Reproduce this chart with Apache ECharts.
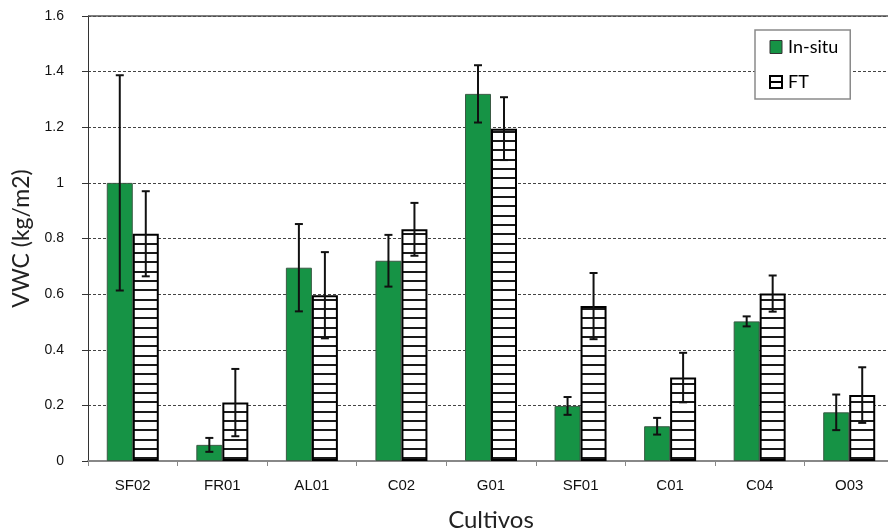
<!DOCTYPE html>
<html>
<head>
<meta charset="utf-8">
<script src="https://cdn.jsdelivr.net/npm/echarts@6/dist/echarts.min.js"></script>
<style>
  html, body { margin: 0; padding: 0; background: #fff; overflow: hidden; }
  #chart { width: 888px; height: 531px; }
</style>
</head>
<body>
<div id="chart"></div>
<script>
// Crops and measured volumetric water content (kg/m2)
const categories = ['SF02', 'FR01', 'AL01', 'C02', 'G01', 'SF01', 'C01', 'C04', 'O03'];
const inSitu     = [1.00, 0.058, 0.695, 0.72, 1.32, 0.198, 0.125, 0.502, 0.175];
const inSituErr  = [0.387, 0.025, 0.157, 0.093, 0.103, 0.032, 0.030, 0.018, 0.064];
const ft         = [0.817, 0.21, 0.596, 0.833, 1.195, 0.557, 0.30, 0.602, 0.237];
const ftErr      = [0.153, 0.121, 0.155, 0.095, 0.113, 0.119, 0.089, 0.065, 0.100];
const yTicks     = [0, 0.2, 0.4, 0.6, 0.8, 1, 1.2, 1.4, 1.6];

const BAR_W = 26;
const GREEN = '#169345';

// Horizontal-stripe fill for the FT bars
function stripePattern() {
  const c = document.createElement('canvas');
  c.width = 4; c.height = 28;
  const ctx = c.getContext('2d');
  ctx.fillStyle = '#ffffff';
  ctx.fillRect(0, 0, c.width, c.height);
  ctx.fillStyle = '#1a1a1a';
  [0, 9, 19].forEach(y => ctx.fillRect(0, y, c.width, 2));
  return c;
}

// Error whiskers drawn around each bar's top, shifted to the bar's slot
function errorSeries(name, values, errs, shift) {
  return {
    type: 'custom',
    name: name + '-err',
    silent: true,
    z: 10,
    data: values.map((v, i) => [i, v - errs[i], v + errs[i]]),
    encode: { x: 0, y: [1, 2] },
    renderItem: function (params, api) {
      const lo = api.coord([api.value(0), api.value(1)]);
      const hi = api.coord([api.value(0), api.value(2)]);
      const x = lo[0] + shift;
      const cap = 4;
      const style = { stroke: '#111', lineWidth: 2 };
      return {
        type: 'group',
        children: [
          { type: 'line', shape: { x1: x, y1: lo[1], x2: x, y2: hi[1] }, style: style },
          { type: 'line', shape: { x1: x - cap, y1: hi[1], x2: x + cap, y2: hi[1] }, style: style },
          { type: 'line', shape: { x1: x - cap, y1: lo[1], x2: x + cap, y2: lo[1] }, style: style }
        ]
      };
    }
  };
}

const chart = echarts.init(document.getElementById('chart'), null, { renderer: 'canvas', width: 888, height: 531 });

chart.setOption({
  animation: false,
  backgroundColor: '#ffffff',
  grid: { left: 88, top: 16, width: 806, height: 445, containLabel: false, outerBoundsMode: 'none' },
  legend: {
    orient: 'vertical',
    left: 755, top: 30,
    padding: [8, 12, 8, 14],
    itemGap: 17,
    itemWidth: 12, itemHeight: 13,
    borderColor: '#8a8a8a', borderWidth: 1.5,
    backgroundColor: '#fff',
    textStyle: { fontFamily: 'Lato', fontSize: 18, color: '#000', padding: [0, 0, 0, 1] },
    data: [
      { name: 'In-situ', icon: 'rect', itemStyle: { color: GREEN, borderColor: '#333', borderWidth: 1 } },
      { name: 'FT', icon: 'path://M0,0H20V20H0ZM0,10H20', itemStyle: { color: '#fff', borderColor: '#000', borderWidth: 2 } }
    ]
  },
  xAxis: {
    type: 'category',
    data: categories,
    name: 'Cultivos',
    nameLocation: 'middle',
    nameGap: 47,
    nameTextStyle: { fontFamily: 'Lato', fontSize: 24, color: '#222' },
    axisLine: { lineStyle: { color: '#888', width: 2 } },
    axisTick: { show: true, length: 5, lineStyle: { color: '#888' } },
    axisLabel: { margin: 17, fontFamily: 'Liberation Sans', fontSize: 15, color: '#111' }
  },
  yAxis: {
    type: 'value',
    min: 0, max: 1.6, interval: 0.2,
    name: 'VWC (kg/m2)',
    nameLocation: 'middle',
    nameGap: 55,
    nameRotate: 90,
    nameTextStyle: { fontFamily: 'Lato', fontSize: 23, color: '#222' },
    axisLine: { show: true, lineStyle: { color: '#333', width: 1 } },
    axisTick: { show: true, length: 6, lineStyle: { color: '#333' } },
    axisLabel: {
      margin: 24, fontFamily: 'Liberation Sans', fontSize: 14, color: '#111',
      formatter: v => {
        const t = yTicks.find(k => Math.abs(k - v) < 1e-9);
        return String(t === undefined ? v : t);
      }
    },
    splitLine: { show: true, lineStyle: { color: '#444', type: [3, 2], width: 1 } }
  },
  series: [
    {
      name: 'In-situ',
      type: 'bar',
      data: inSitu,
      barWidth: BAR_W,
      barGap: '0%',
      itemStyle: { color: GREEN, borderColor: '#3a5a44', borderWidth: 1 },
      markLine: {
        silent: true, symbol: 'none', label: { show: false },
        lineStyle: { color: '#555', type: 'solid', width: 1.5 },
        data: [{ yAxis: 1.6 }]
      }
    },
    {
      name: 'FT',
      type: 'bar',
      data: ft,
      barWidth: BAR_W,
      barGap: '0%',
      itemStyle: {
        color: { image: stripePattern(), repeat: 'repeat' },
        borderColor: '#000', borderWidth: 2
      }
    },
    errorSeries('In-situ', inSitu, inSituErr, -BAR_W / 2),
    errorSeries('FT', ft, ftErr, BAR_W / 2)
  ]
});
</script>
</body>
</html>
